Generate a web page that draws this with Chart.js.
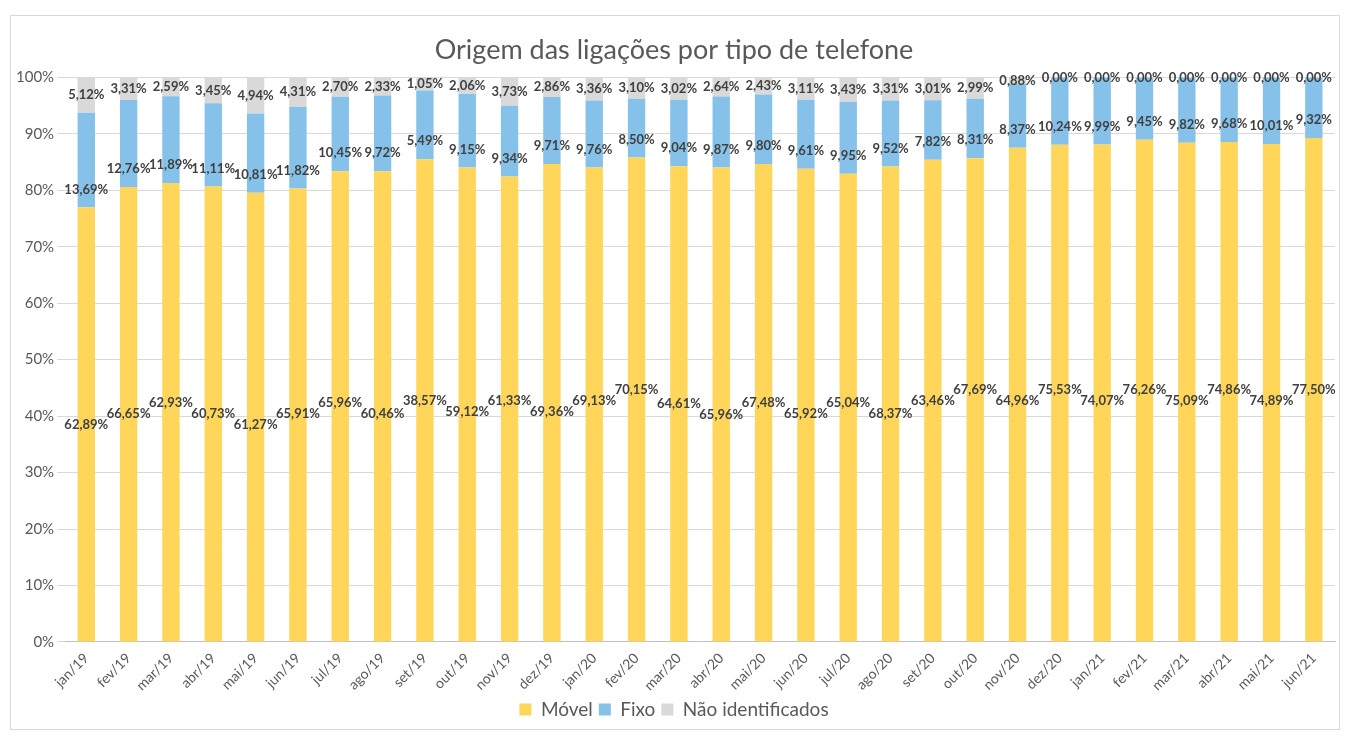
<!DOCTYPE html>
<html><head><meta charset="utf-8">
<script src="https://cdn.jsdelivr.net/npm/chart.js@4.4.0/dist/chart.umd.min.js"></script>
<style>
html,body{margin:0;padding:0;background:#fff;}
#box{position:absolute;left:10px;top:15px;width:1328px;height:713px;border:1px solid #d9d9d9;}
#wrap{position:absolute;left:0;top:0;width:1328px;height:713px;}
</style></head><body>
<div id="box"><div id="wrap"><canvas id="c"></canvas></div></div>
<script>
const categories = ["jan/19","fev/19","mar/19","abr/19","mai/19","jun/19","jul/19","ago/19","set/19","out/19","nov/19","dez/19","jan/20","fev/20","mar/20","abr/20","mai/20","jun/20","jul/20","ago/20","set/20","out/20","nov/20","dez/20","jan/21","fev/21","mar/21","abr/21","mai/21","jun/21"];
const movel = [62.89,66.65,62.93,60.73,61.27,65.91,65.96,60.46,38.57,59.12,61.33,69.36,69.13,70.15,64.61,65.96,67.48,65.92,65.04,68.37,63.46,67.69,64.96,75.53,74.07,76.26,75.09,74.86,74.89,77.50];
const fixo = [13.69,12.76,11.89,11.11,10.81,11.82,10.45,9.72,5.49,9.15,9.34,9.71,9.76,8.50,9.04,9.87,9.80,9.61,9.95,9.52,7.82,8.31,8.37,10.24,9.99,9.45,9.82,9.68,10.01,9.32];
const naoIdent = [5.12,3.31,2.59,3.45,4.94,4.31,2.70,2.33,1.05,2.06,3.73,2.86,3.36,3.10,3.02,2.64,2.43,3.11,3.43,3.31,3.01,2.99,0.88,0.00,0.00,0.00,0.00,0.00,0.00,0.00];
const yTicks = [0,10,20,30,40,50,60,70,80,90,100];
const seriesNames = ["Móvel","Fixo","Não identificados"];
const colors = ["#FFD55A","#85C1E8","#D9D9D9"];

const raw = [movel, fixo, naoIdent];
const totals = categories.map((_, i) => movel[i] + fixo[i] + naoIdent[i]);
const share = raw.map(arr => arr.map((v, i) => v / totals[i] * 100));
const fmt = v => v.toFixed(2).replace('.', ',') + '%';

const labelPlugin = {
  id: 'labels',
  afterDatasetsDraw(chart) {
    const ctx = chart.ctx;
    ctx.save();
    ctx.font = 'bold 13px Lato';
    ctx.fillStyle = '#404040';
    ctx.textAlign = 'center';
    ctx.textBaseline = 'middle';
    const h = 11;
    chart.data.datasets.forEach((ds, di) => {
      const meta = chart.getDatasetMeta(di);
      let prev = null;
      meta.data.forEach((bar, i) => {
        const txt = fmt(raw[di][i]);
        const w = ctx.measureText(txt).width;
        let y;
        if (di === 1) y = bar.base - 18;
        else y = (bar.y + bar.base) / 2;
        if (di === 0 && prev) {
          if (Math.abs(bar.x - prev.x) < (w + prev.w) / 2 && Math.abs(y - prev.y) < h) {
            y = (y >= prev.y) ? prev.y + h : prev.y - h;
          }
        }
        ctx.fillText(txt, bar.x, y);
        prev = {x: bar.x, y: y, w: w};
      });
    });
    ctx.restore();
  }
};

new Chart(document.getElementById('c'), {
  type: 'bar',
  data: {
    labels: categories,
    datasets: seriesNames.map((n, k) => ({
      label: n, data: share[k], backgroundColor: colors[k],
      categoryPercentage: 1.0, barPercentage: 0.41, borderWidth: 0
    }))
  },
  options: {
    responsive: true, maintainAspectRatio: false, animation: false,
    layout: {padding: {left: 2, right: 4, top: 6, bottom: 0}},
    plugins: {
      title: {display: true, text: 'Origem das ligações por tipo de telefone', color: '#595959',
        font: {family: 'Lato', size: 27, weight: 'normal'}, padding: {top: 12, bottom: 11}},
      legend: {position: 'bottom', labels: {color: '#595959', boxWidth: 12, boxHeight: 12,
        font: {family: 'Lato', size: 19}, padding: 6}},
      tooltip: {enabled: false}
    },
    scales: {
      x: {stacked: true, grid: {display: false}, border: {color: '#bfbfbf'},
        ticks: {color: '#595959', font: {family: 'Lato', size: 14}, minRotation: 45, maxRotation: 45, autoSkip: false, padding: 0}},
      y: {stacked: true, min: 0, max: 100, afterBuildTicks: ax => { ax.ticks = yTicks.map(v => ({value: v})); },
        grid: {color: '#d9d9d9'}, border: {display: false},
        ticks: {color: '#595959', font: {family: 'Lato', size: 15}, callback: v => v + '%'}}
    }
  },
  plugins: [labelPlugin]
});
</script></body></html>
